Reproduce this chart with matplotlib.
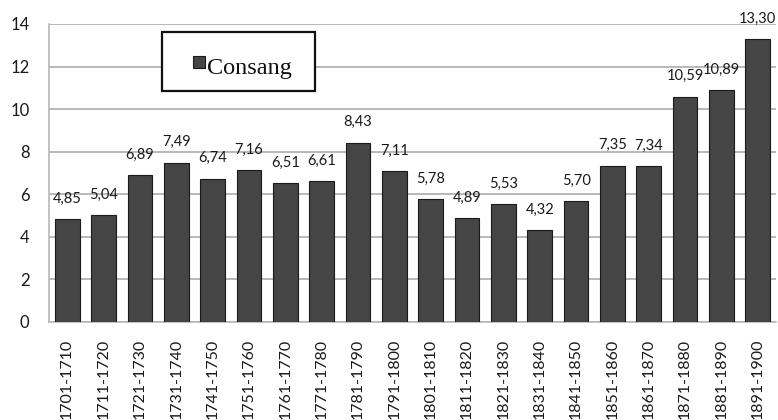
import matplotlib
matplotlib.use("Agg")
import matplotlib.pyplot as plt
from matplotlib.patches import Rectangle

periods = ["1701-1710", "1711-1720", "1721-1730", "1731-1740", "1741-1750",
           "1751-1760", "1761-1770", "1771-1780", "1781-1790", "1791-1800",
           "1801-1810", "1811-1820", "1821-1830", "1831-1840", "1841-1850",
           "1851-1860", "1861-1870", "1871-1880", "1881-1890", "1891-1900"]
consang = [4.85, 5.04, 6.89, 7.49, 6.74, 7.16, 6.51, 6.61, 8.43, 7.11,
           5.78, 4.89, 5.53, 4.32, 5.70, 7.35, 7.34, 10.59, 10.89, 13.30]
yticks = [0, 2, 4, 6, 8, 10, 12, 14]
series_name = "Consang"

bar_color = "#454545"
edge_color = "#1a1a1a"
grid_color = "#b8b8b8"
text_color = "#1a1a1a"
label_font = "Lato"

W, H = 778, 420
fig = plt.figure(figsize=(W / 100, H / 100), dpi=100)
ax = fig.add_axes([49 / W, 1 - 322 / H, 727 / W, 298 / H])

x = list(range(len(periods)))
ax.bar(x, consang, width=0.68, color=bar_color, edgecolor=edge_color,
       linewidth=0.8, zorder=3)

for xi, v in zip(x, consang):
    ax.annotate(f"{v:.2f}".replace(".", ","), (xi, v), xytext=(0, 9.5),
                textcoords="offset points", ha="center", va="bottom",
                fontsize=10.5, family=label_font, color=text_color, zorder=4)

ax.set_xlim(-0.5, len(periods) - 0.5)
ax.set_ylim(0, 14)
ax.set_yticks(yticks)
ax.set_yticklabels([str(t) for t in yticks], fontsize=12, family=label_font,
                   color=text_color)
ax.set_xticks(x)
ax.set_xticklabels(periods, rotation=90, fontsize=11.5, family=label_font,
                   color=text_color)
ax.tick_params(axis="both", length=0)
ax.tick_params(axis="y", pad=14)
ax.tick_params(axis="x", pad=12)

ax.grid(axis="y", color=grid_color, linewidth=1.4, zorder=0)
ax.set_axisbelow(True)
for side in ["top", "right"]:
    ax.spines[side].set_visible(False)
for side in ["left", "bottom"]:
    ax.spines[side].set_color(grid_color)
    ax.spines[side].set_linewidth(1.2)


# Legend box drawn in figure pixel coordinates
def fx(px):
    return px / W


def fy(py):
    return 1 - py / H


fig.patches.append(Rectangle((fx(162), fy(91)), fx(315) - fx(162), fy(32) - fy(91),
                             transform=fig.transFigure, facecolor="white",
                             edgecolor="#111111", linewidth=1.6, zorder=5))
fig.patches.append(Rectangle((fx(193), fy(68)), fx(205) - fx(193), fy(56) - fy(68),
                             transform=fig.transFigure, facecolor=bar_color,
                             edgecolor=edge_color, linewidth=0.8, zorder=6))
fig.text(fx(207), fy(74), series_name, ha="left", va="baseline",
         family="Liberation Serif", fontsize=17.5, color="#111111", zorder=7)

fig.savefig("out.png", dpi=100)
